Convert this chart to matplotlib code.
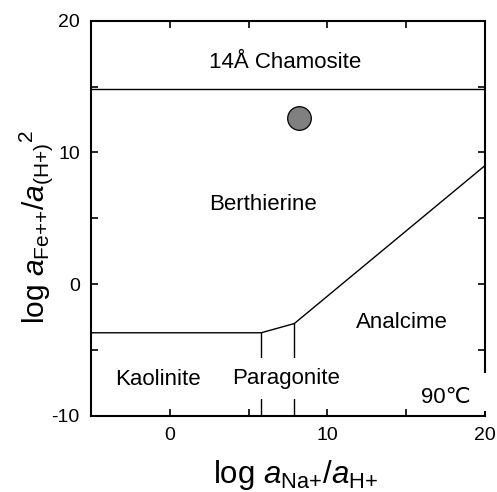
import matplotlib
matplotlib.use('Agg')
import matplotlib.pyplot as plt
from matplotlib.patches import Rectangle
from matplotlib.ticker import MultipleLocator, FuncFormatter

plt.rcParams['font.family'] = ['Liberation Sans', 'DejaVu Sans']
plt.rcParams['mathtext.fontset'] = 'custom'
plt.rcParams['mathtext.rm'] = 'Liberation Sans'
plt.rcParams['mathtext.it'] = 'Liberation Sans:italic'

# %% stability field boundaries (log aNa+/aH+ , log aFe++/a(H+)^2)
chamosite_x = [-5, 20]
chamosite_y = [14.8, 14.8]

berthierine_x = [-5, 5.8, 7.9, 20]
berthierine_y = [-3.7, -3.7, -3.0, 9.0]

kaol_parag_x = [5.8, 5.8]
kaol_parag_y = [-10, -3.7]

parag_analc_x = [7.9, 7.9]
parag_analc_y = [-10, -3.0]

# measured water composition
sample_x = [8.2]
sample_y = [12.6]

# field names and where they sit
field_names = ['14Å Chamosite', 'Berthierine', 'Analcime', 'Kaolinite', 'Paragonite']
field_x = [7.3, 5.9, 14.7, -0.75, 7.4]
field_y = [16.4, 5.6, -3.3, -7.65, -7.6]

temp_label = '90℃'

# %% plot
fig = plt.figure(figsize=(4.97, 4.92), dpi=100)
ax = fig.add_axes([0.183, 0.155, 0.793, 0.803])

for xs, ys in [(chamosite_x, chamosite_y), (berthierine_x, berthierine_y),
               (kaol_parag_x, kaol_parag_y), (parag_analc_x, parag_analc_y)]:
    ax.plot(xs, ys, color='black', lw=1.0, zorder=2)

ax.plot(sample_x, sample_y, 'o', ms=17, mfc='#808080', mec='black', mew=0.9, zorder=4)

for name, x, y in zip(field_names, field_x, field_y):
    t = ax.text(x, y, name, fontsize=16, ha='center', va='baseline', zorder=3)
    if name == 'Paragonite':
        # white box breaks the two vertical boundaries behind the label
        t.set_bbox(dict(facecolor='white', edgecolor='none', boxstyle='square,pad=0.45'))

ax.text(17.5, -9.05, temp_label, fontsize=16, ha='center', va='baseline', zorder=3)
# label box in the original also cuts the right frame
ax.add_patch(Rectangle((0.96, 0.013), 0.05, 0.096, transform=ax.transAxes,
                       facecolor='white', edgecolor='none', clip_on=False, zorder=2.6))

ax.set_xlim(-5, 20)
ax.set_ylim(-10, 20)
ax.xaxis.set_major_locator(MultipleLocator(5))
ax.yaxis.set_major_locator(MultipleLocator(5))
lab10 = FuncFormatter(lambda v, p: '%d' % v if round(v) % 10 == 0 else '')
ax.xaxis.set_major_formatter(lab10)
ax.yaxis.set_major_formatter(lab10)
ax.tick_params(direction='in', length=5, width=1.2, top=True, right=True,
               labelsize=14, pad=8)
for s in ax.spines.values():
    s.set_linewidth(1.5)

ax.set_xlabel(r'log $a_{\mathrm{Na{+}}}/a_{\mathrm{H{+}}}$', fontsize=22.5, labelpad=10.5)
ax.set_ylabel(r'log $a_{\mathrm{Fe{+}{+}}}/a_{\mathrm{(H{+})}}{}^{2}$', fontsize=21.5, labelpad=-2.5)
ax.xaxis.label.set_x(0.52)
ax.yaxis.label.set_y(0.478)

fig.savefig('out.png', dpi=100)
